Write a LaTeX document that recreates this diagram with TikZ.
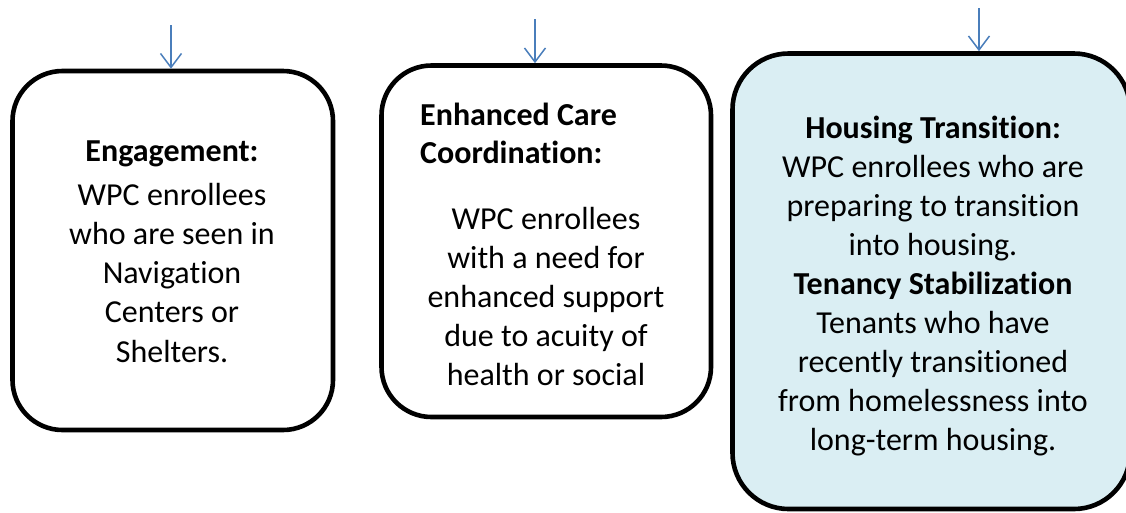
\documentclass[tikz,border=0pt]{standalone}
\usepackage{fontspec}
\setmainfont{Carlito}[Ligatures={NoCommon}]
\usetikzlibrary{arrows.meta}
\definecolor{arrowblue}{RGB}{74,126,187}
\definecolor{boxfill}{HTML}{DAEEF3}
\begin{document}
\begin{tikzpicture}[x=1pt,y=-1pt,
  box/.style={draw=black, line width=4.6pt, rounded corners=50pt, fill=white, inner sep=0pt},
  flowarrow/.style={draw=arrowblue, line width=1.5pt, -{Straight Barb[length=14pt,width=21pt,line width=1.5pt]}},
  txt/.style={anchor=base, inner sep=0pt, font=\fontsize{32}{39}\selectfont},
  ttl/.style={anchor=base, inner sep=0pt, font=\fontsize{32}{39}\selectfont\bfseries}]
\useasboundingbox (0,0) rectangle (1126,512);

% boxes
\node[box, minimum width=320.5pt, minimum height=359pt] (b1) at (172.75,250.5) {};
\node[box, minimum width=329.5pt, minimum height=351.5pt] (b2) at (546.25,241.25) {};
\node[box, fill=boxfill, rounded corners=56pt, minimum width=397.5pt, minimum height=455.5pt] (b3) at (931.25,281.25) {};

% arrows
\coordinate (a1) at (171,25);
\coordinate (a2) at (535,19);
\coordinate (a3) at (979,8);
\draw[flowarrow] (a1) -- (a1 |- b1.north);
\draw[flowarrow] (a2) -- (a2 |- b2.north);
\draw[flowarrow] (a3) -- (a3 |- b3.north);

% box 1 text
\node[ttl] (b1h) at (172,161.7) {Engagement:};
\foreach \t [count=\i] in {WPC enrollees, who are seen in, Navigation, Centers or, Shelters.}
  \node[txt] (b1t\i) at (172,{205+39.3*(\i-1)}) {\t};

% box 2 text
\node[ttl, anchor=base west] (b2h1) at (420,125) {Enhanced Care};
\node[ttl, anchor=base west] (b2h2) at (420,163) {Coordination:};
\foreach \t [count=\i] in {WPC enrollees, with a need for, enhanced support, due to acuity of, health or social}
  \node[txt] (b2t\i) at (546,{229+39.1*(\i-1)}) {\t};

% box 3 text
\node[ttl] (b3h1) at (933,138) {Housing Transition:};
\node[txt] (b3t1) at (933,177) {WPC enrollees who are};
\node[txt] (b3t2) at (933,216) {preparing to transition};
\node[txt] (b3t3) at (933,255) {into housing.};
\node[ttl] (b3h2) at (933,294) {Tenancy Stabilization};
\node[txt] (b3t4) at (933,333) {Tenants who have};
\node[txt] (b3t5) at (933,372) {recently transitioned};
\node[txt] (b3t6) at (933,411) {from homelessness into};
\node[txt] (b3t7) at (933,450) {long-term housing.};
\end{tikzpicture}
\end{document}
